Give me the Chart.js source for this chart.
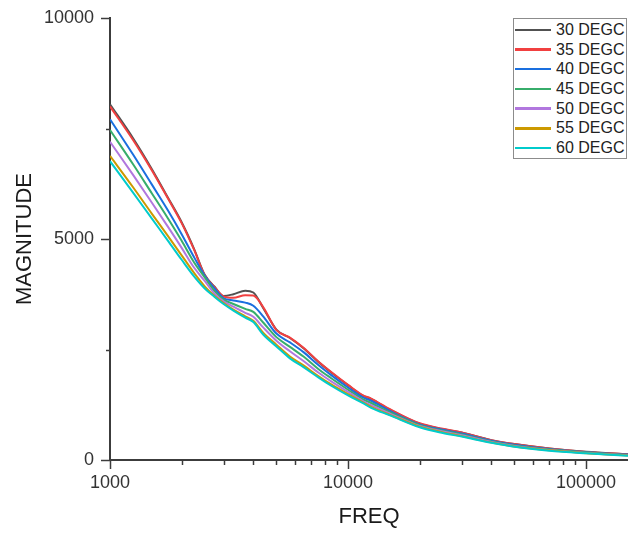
<!DOCTYPE html>
<html>
<head>
<meta charset="utf-8">
<script src="https://cdn.jsdelivr.net/npm/chart.js@4.4.1/dist/chart.umd.min.js"></script>
<style>
  html, body { margin: 0; padding: 0; background: #fff; }
  #wrap { position: relative; width: 628px; height: 536px; }
  #legend {
    position: absolute; left: 513px; top: 18px; width: 114px; height: 141px;
    box-sizing: border-box; border: 1px solid #8c8c8c; background: #fff;
    padding-top: 1px;
    font-family: "Liberation Sans", Arial, sans-serif; font-size: 16px; color: #222;
  }
  .row { height: 19.7px; display: flex; align-items: center; white-space: nowrap; }
  .swatch { width: 36px; height: 2.5px; margin-left: 1px; margin-right: 5px; flex: none; }
</style>
</head>
<body>
<div id="wrap">
  <canvas id="chart" width="628" height="536"></canvas>
  <div id="legend"></div>
</div>
<script>
/* ---------- data ---------- */
const freq = [1000, 1250, 1500, 1750, 2000, 2250, 2500, 2750, 3000, 3300, 3700, 4000, 4400, 5000, 5700,
              6500, 7500, 8500, 10000, 11500, 12500, 15000, 20000, 25000, 30000, 40000, 50000, 70000, 100000, 150000];

const deg30 = [8050, 7280, 6580, 5940, 5380, 4790, 4190, 3920, 3710, 3750, 3830, 3790, 3440, 2950, 2760,
               2530, 2220, 1980, 1690, 1460, 1380, 1140, 820, 700, 620, 450, 360, 260, 185, 130];
const deg35 = [8000, 7240, 6550, 5920, 5360, 4770, 4180, 3910, 3700, 3670, 3730, 3720, 3460, 2940, 2770,
               2540, 2230, 1990, 1700, 1470, 1390, 1150, 830, 705, 625, 450, 360, 258, 182, 128];
const deg40 = [7710, 6910, 6230, 5650, 5110, 4600, 4170, 3880, 3660, 3610, 3560, 3490, 3250, 2860, 2660,
               2440, 2150, 1920, 1640, 1420, 1340, 1110, 805, 685, 600, 435, 345, 248, 175, 122];
const deg45 = [7465, 6690, 6030, 5470, 4960, 4480, 4130, 3820, 3630, 3530, 3420, 3350, 3110, 2780, 2560,
               2340, 2060, 1850, 1590, 1380, 1290, 1080, 790, 665, 580, 420, 330, 238, 168, 115];
const deg50 = [7200, 6450, 5820, 5280, 4800, 4360, 4050, 3760, 3590, 3470, 3330, 3240, 3000, 2700, 2460,
               2240, 1980, 1780, 1540, 1340, 1240, 1050, 770, 645, 560, 405, 318, 228, 160, 108];
const deg55 = [6880, 6170, 5570, 5070, 4630, 4240, 3930, 3710, 3550, 3400, 3250, 3150, 2880, 2610, 2340,
               2140, 1900, 1710, 1490, 1310, 1200, 1020, 755, 625, 540, 395, 305, 218, 155, 100];
const deg60 = [6760, 6050, 5460, 4965, 4530, 4160, 3880, 3690, 3530, 3380, 3220, 3120, 2840, 2570, 2300,
               2100, 1870, 1680, 1460, 1290, 1180, 1010, 740, 610, 530, 390, 300, 210, 150, 95];

const seriesNames = ["30 DEGC", "35 DEGC", "40 DEGC", "45 DEGC", "50 DEGC", "55 DEGC", "60 DEGC"];
const series = [deg30, deg35, deg40, deg45, deg50, deg55, deg60];
const colors = ["#515151", "#F14040", "#1A6FDF", "#37AD6B", "#B177DE", "#CC9900", "#00CBCC"];

// axis ticks
const xTicks = [1000, 2000, 3000, 4000, 5000, 6000, 7000, 8000, 9000,
                10000, 20000, 30000, 40000, 50000, 60000, 70000, 80000, 90000, 100000];
const xLabels = [1000, 10000, 100000];
const yTicks = [0, 2500, 5000, 7500, 10000];
const yLabels = [0, 5000, 10000];

/* ---------- chart ---------- */
Chart.defaults.font.family = '"Liberation Sans", Arial, sans-serif';

// tick marks: long for labelled ticks, short for the rest
const tickMarks = {
  id: "tickMarks",
  afterDraw(chart) {
    const { ctx, scales: { x, y } } = chart;
    ctx.save();
    ctx.strokeStyle = "#3c3c3c";
    ctx.lineWidth = 1.5;
    x.ticks.forEach(t => {
      const px = Math.round(x.getPixelForValue(t.value)) + 0.5;
      const len = xLabels.includes(t.value) ? 9 : 5;
      ctx.beginPath();
      ctx.moveTo(px, x.top);
      ctx.lineTo(px, x.top + len);
      ctx.stroke();
    });
    y.ticks.forEach(t => {
      const py = Math.round(y.getPixelForValue(t.value)) + 0.5;
      const len = yLabels.includes(t.value) ? 9 : 4;
      ctx.beginPath();
      ctx.moveTo(y.right, py);
      ctx.lineTo(y.right - len, py);
      ctx.stroke();
    });
    ctx.restore();
  }
};

const chart = new Chart(document.getElementById("chart"), {
  type: "line",
  data: {
    datasets: series.map((s, i) => ({
      label: seriesNames[i],
      data: freq.map((f, j) => ({ x: f, y: s[j] })),
      borderColor: colors[i],
      backgroundColor: colors[i],
      borderWidth: 2,
      pointRadius: 0,
      fill: false,
      cubicInterpolationMode: "monotone",
      order: series.length - i
    }))
  },
  options: {
    responsive: false,
    animation: false,
    layout: { padding: { top: 18, right: 0, left: 0, bottom: 0 } },
    plugins: { legend: { display: false }, tooltip: { enabled: false } },
    scales: {
      x: {
        type: "logarithmic",
        min: 1000,
        max: 150000,
        afterBuildTicks: s => { s.ticks = xTicks.map(v => ({ value: v })); },
        afterFit: s => { s.height = 76; s.paddingRight = 0; },
        grid: { display: false, drawTicks: false },
        border: { display: true, color: "#3c3c3c", width: 2 },
        ticks: {
          autoSkip: false, maxRotation: 0, padding: 12, color: "#333",
          font: { size: 18 },
          callback: v => xLabels.includes(v) ? String(v) : ""
        },
        title: { display: true, text: "FREQ", color: "#1a1a1a", font: { size: 22 }, padding: { top: 0, bottom: 6 } }
      },
      y: {
        min: 0,
        max: 10000,
        afterBuildTicks: s => { s.ticks = yTicks.map(v => ({ value: v })); },
        afterFit: s => { s.width = 110; s.paddingTop = 0; s.paddingBottom = 0; },
        grid: { display: false, drawTicks: false },
        border: { display: true, color: "#3c3c3c", width: 2 },
        ticks: {
          autoSkip: false, padding: 16, color: "#333",
          font: { size: 18 },
          callback: v => yLabels.includes(v) ? String(v) : ""
        },
        title: { display: true, text: "MAGNITUDE", color: "#1a1a1a", font: { size: 22 }, padding: { top: 12, bottom: 0 } }
      }
    }
  },
  plugins: [tickMarks]
});

/* ---------- legend ---------- */
const legend = document.getElementById("legend");
chart.data.datasets.forEach(ds => {
  const row = document.createElement("div");
  row.className = "row";
  row.innerHTML = `<span class="swatch" style="background:${ds.borderColor}"></span><span>${ds.label}</span>`;
  legend.appendChild(row);
});
</script>
</body>
</html>
